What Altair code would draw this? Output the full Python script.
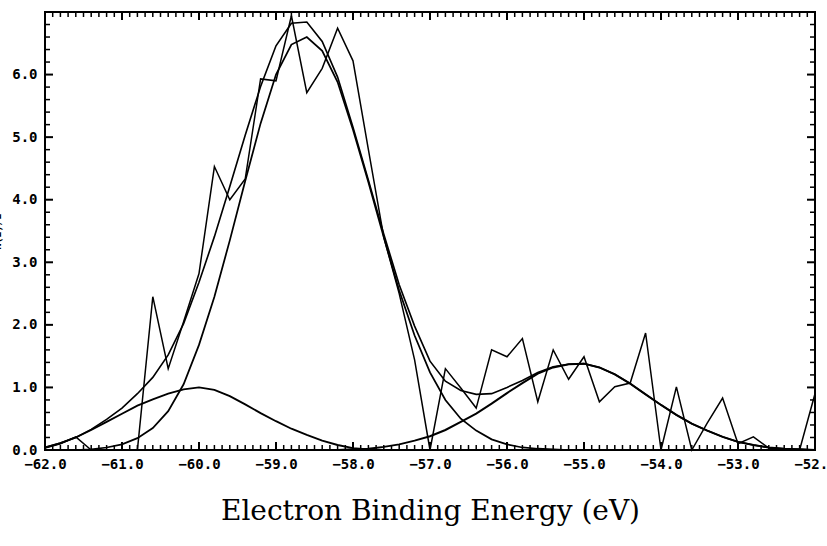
import altair as alt
import pandas as pd

# Binding-energy grid (eV), 0.2 eV channels
energy = [-62.0, -61.8, -61.6, -61.4, -61.2, -61.0, -60.8, -60.6, -60.4, -60.2,
          -60.0, -59.8, -59.6, -59.4, -59.2, -59.0, -58.8, -58.6, -58.4, -58.2,
          -58.0, -57.8, -57.6, -57.4, -57.2, -57.0, -56.8, -56.6, -56.4, -56.2,
          -56.0, -55.8, -55.6, -55.4, -55.2, -55.0, -54.8, -54.6, -54.4, -54.2,
          -54.0, -53.8, -53.6, -53.4, -53.2, -53.0, -52.8, -52.6, -52.4, -52.2,
          -52.0]

# Measured spectrum N(E)/E
measured = [0.03, 0.10, 0.21, 0.00, 0.00, 0.00, 0.00, 2.45, 1.30, 2.05,
            2.82, 4.53, 4.00, 4.33, 5.93, 5.90, 6.94, 5.71, 6.10, 6.74,
            6.22, 4.80, 3.40, 2.50, 1.44, 0.00, 1.30, 0.99, 0.67, 1.60,
            1.49, 1.78, 0.77, 1.60, 1.13, 1.49, 0.77, 1.01, 1.07, 1.87,
            0.00, 1.01, 0.00, 0.43, 0.83, 0.10, 0.21, 0.03, 0.00, 0.00,
            0.90]

# Sum of the fitted components
fit_total = [0.04, 0.11, 0.20, 0.33, 0.49, 0.67, 0.90, 1.16, 1.52, 2.02,
             2.68, 3.41, 4.21, 5.03, 5.81, 6.46, 6.82, 6.84, 6.53, 5.96,
             5.16, 4.31, 3.45, 2.64, 1.98, 1.42, 1.10, 0.95, 0.89, 0.90,
             1.00, 1.11, 1.24, 1.33, 1.37, 1.38, 1.32, 1.21, 1.06, 0.89,
             0.72, 0.56, 0.42, 0.31, 0.21, 0.13, 0.08, 0.04, 0.02, 0.01,
             0.00]

# Main component near -58.6 eV
peak_main = [0.00, 0.00, 0.00, 0.01, 0.04, 0.09, 0.19, 0.35, 0.62, 1.05,
             1.68, 2.45, 3.35, 4.30, 5.22, 6.00, 6.48, 6.60, 6.38, 5.88,
             5.12, 4.28, 3.40, 2.55, 1.83, 1.24, 0.80, 0.50, 0.31, 0.17,
             0.09, 0.04, 0.02, 0.01, 0.00, 0.00, 0.00, 0.00, 0.00, 0.00,
             0.00, 0.00, 0.00, 0.00, 0.00, 0.00, 0.00, 0.00, 0.00, 0.00,
             0.00]

# Low-energy shoulder near -60 eV
peak_low = [0.04, 0.11, 0.20, 0.32, 0.45, 0.58, 0.71, 0.81, 0.90, 0.97,
            1.00, 0.96, 0.86, 0.73, 0.59, 0.46, 0.34, 0.24, 0.15, 0.08,
            0.03, 0.01, 0.00, 0.00, 0.00, 0.00, 0.00, 0.00, 0.00, 0.00,
            0.00, 0.00, 0.00, 0.00, 0.00, 0.00, 0.00, 0.00, 0.00, 0.00,
            0.00, 0.00, 0.00, 0.00, 0.00, 0.00, 0.00, 0.00, 0.00, 0.00,
            0.00]

# High-energy component near -55 eV
peak_high = [0.00, 0.00, 0.00, 0.00, 0.00, 0.00, 0.00, 0.00, 0.00, 0.00,
             0.00, 0.00, 0.00, 0.00, 0.00, 0.00, 0.00, 0.00, 0.00, 0.00,
             0.01, 0.02, 0.05, 0.09, 0.15, 0.22, 0.32, 0.45, 0.58, 0.74,
             0.91, 1.07, 1.22, 1.32, 1.37, 1.38, 1.32, 1.21, 1.06, 0.89,
             0.72, 0.56, 0.42, 0.31, 0.21, 0.13, 0.08, 0.04, 0.02, 0.01,
             0.00]

series_names = ["measured", "fit", "main", "low", "high"]
series_widths = [1.5, 2.0, 2.0, 2.2, 2.2]
series_values = [measured, fit_total, peak_main, peak_low, peak_high]

# Tick positions
x_major = [-62, -61, -60, -59, -58, -57, -56, -55, -54, -53, -52]
x_minor = [round(-62 + 0.1 * i, 1) for i in range(101) if i % 10]
y_major = [0, 1, 2, 3, 4, 5, 6]
y_minor = [round(0.2 * i, 1) for i in range(36) if i % 5]
x_lo, x_hi = -62, -52
y_lo, y_hi = 0, 7

LABEL_FONT = "DejaVu Sans Mono"
BIG, SMALL = 8, 5

spectra = pd.concat(
    [pd.DataFrame({"energy": energy, "value": vals, "series": name})
     for name, vals in zip(series_names, series_values)],
    ignore_index=True,
)

x_scale = alt.Scale(domain=[x_lo, x_hi], nice=False, zero=False)
y_scale = alt.Scale(domain=[y_lo, y_hi], nice=False)

x_axis = alt.Axis(
    values=x_major, ticks=False, domain=False, grid=False,
    labelPadding=7, labelFont=LABEL_FONT, labelFontSize=14,
    labelFontWeight="bold", labelColor="black", labelFlush=False,
    title="Electron Binding Energy (eV)", titleFont="DejaVu Serif",
    titleFontSize=28, titleFontWeight="normal", titleColor="black",
    titlePadding=26)
y_axis = alt.Axis(
    values=y_major, ticks=False, domain=False, grid=False,
    labelPadding=8, labelFont=LABEL_FONT, labelFontSize=14,
    labelFontWeight="bold", labelColor="black", labelFlush=False,
    title="N(E)/E", titleFont=LABEL_FONT, titleFontSize=10,
    titleFontWeight="bold", titleColor="black", titlePadding=9)

curves = alt.Chart(spectra).mark_line(color="black").encode(
    x=alt.X("energy:Q", scale=x_scale, axis=x_axis),
    y=alt.Y("value:Q", scale=y_scale, axis=y_axis),
    detail="series:N",
    strokeWidth=alt.StrokeWidth(
        "series:N", legend=None,
        scale=alt.Scale(domain=series_names, range=series_widths)),
)


def x_ticks(values, edge, size, width, inward):
    """Frame ticks along a horizontal edge, pointing into the plot."""
    df = pd.DataFrame({"tick": values})
    return alt.Chart(df).mark_tick(
        orient="vertical", size=size, thickness=width, color="black",
        opacity=1, yOffset=inward * size / 2,
    ).encode(x=alt.X("tick:Q", scale=x_scale), y=alt.datum(edge))


def y_ticks(values, edge, size, width, inward):
    """Frame ticks along a vertical edge, pointing into the plot."""
    df = pd.DataFrame({"tick": values})
    return alt.Chart(df).mark_tick(
        orient="horizontal", size=size, thickness=width, color="black",
        opacity=1, xOffset=inward * size / 2,
    ).encode(y=alt.Y("tick:Q", scale=y_scale), x=alt.datum(edge))


frame_ticks = [
    x_ticks(x_major, y_lo, BIG, 2.0, -1),
    x_ticks(x_minor, y_lo, SMALL, 1.5, -1),
    x_ticks(x_major, y_hi, BIG, 2.0, 1),
    x_ticks(x_minor, y_hi, SMALL, 1.5, 1),
    y_ticks(y_major, x_lo, BIG, 2.0, 1),
    y_ticks(y_minor, x_lo, SMALL, 1.5, 1),
    y_ticks(y_major, x_hi, BIG, 2.0, -1),
    y_ticks(y_minor, x_hi, SMALL, 1.5, -1),
]

chart = alt.layer(curves, *frame_ticks).properties(
    width=770,
    height=438,
    autosize=alt.AutoSizeParams(type="none"),
    padding={"left": 45, "top": 12, "right": 12, "bottom": 96},
    background="white",
).configure_view(
    stroke="black", strokeWidth=2
)

chart.save("out.html", embed_options={"renderer": "svg", "actions": False})
